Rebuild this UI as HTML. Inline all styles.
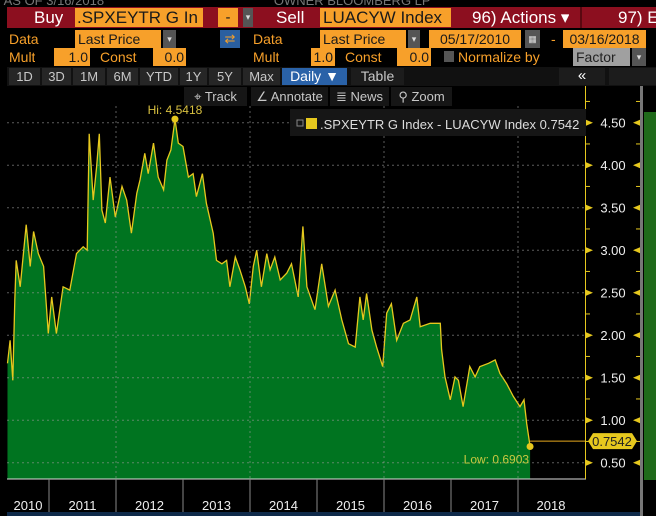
<!DOCTYPE html>
<html><head><meta charset="utf-8"><style>
body{margin:0;background:#000;width:656px;height:516px;overflow:hidden;position:relative;font-family:"Liberation Sans",sans-serif}
.a{position:absolute;box-sizing:border-box;white-space:nowrap;overflow:hidden}
.or{background:#f7a02a;color:#1a1a1a}
.lb{color:#f7a02a}
.btn{background:#262626;color:#c8c8c8;text-align:center}
.dd{background:#555;color:#ddd;text-align:center;font-size:9px}
</style></head><body>
<div class="a" style="left:0;top:0;width:656px;height:7px;color:#777;font-size:13px;line-height:2px">&nbsp;AS OF 3/16/2018 &nbsp;&nbsp;&nbsp;&nbsp;&nbsp;&nbsp;&nbsp;&nbsp;&nbsp;&nbsp;&nbsp;&nbsp;&nbsp;&nbsp;&nbsp;&nbsp;&nbsp;&nbsp;&nbsp;&nbsp;&nbsp;&nbsp;&nbsp;&nbsp;&nbsp;&nbsp;&nbsp;&nbsp;&nbsp;&nbsp;&nbsp;&nbsp;&nbsp;&nbsp;&nbsp;&nbsp;&nbsp;&nbsp;&nbsp;&nbsp;&nbsp;&nbsp;&nbsp;&nbsp;&nbsp;&nbsp;OWNER BLOOMBERG LP</div>
<div class="a" style="left:7px;top:7px;width:649px;height:21px;background:#8c0f1f"></div>
<div class="a" style="left:34px;top:7px;height:21px;color:#fff;font-size:17px;line-height:21px">Buy</div>
<div class="a or" style="left:75px;top:8px;width:128px;height:19px;font-size:17px;line-height:19px;padding-left:2px">.SPXEYTR G In</div>
<div class="a or" style="left:218px;top:8px;width:20px;height:19px;font-size:15px;line-height:19px;text-align:center">-</div>
<div class="a dd" style="left:243px;top:8px;width:10px;height:19px;line-height:19px">▾</div>
<div class="a" style="left:276px;top:7px;height:21px;color:#fff;font-size:17px;line-height:21px">Sell</div>
<div class="a or" style="left:320px;top:8px;width:131px;height:19px;font-size:17px;line-height:19px;padding-left:3px">LUACYW Index</div>
<div class="a" style="left:472px;top:7px;color:#fff;font-size:17px;line-height:21px">96) Actions ▾</div>
<div class="a" style="left:580px;top:7px;width:2px;height:21px;background:#5a0810"></div>
<div class="a" style="left:618px;top:7px;color:#fff;font-size:17px;line-height:21px;width:40px">97) Ec</div>
<div class="a lb" style="left:9px;top:30px;font-size:14px;line-height:18px">Data</div>
<div class="a or" style="left:75px;top:30px;width:86px;height:18px;font-size:14px;line-height:18px;padding-left:3px">Last Price</div>
<div class="a dd" style="left:163px;top:30px;width:13px;height:18px;line-height:18px">▾</div>
<div class="a" style="left:220px;top:30px;width:20px;height:18px;background:#2a5fa0;color:#f7a02a;font-size:13px;line-height:18px;text-align:center">⇄</div>
<div class="a lb" style="left:253px;top:30px;font-size:14px;line-height:18px">Data</div>
<div class="a or" style="left:320px;top:30px;width:86px;height:18px;font-size:14px;line-height:18px;padding-left:3px">Last Price</div>
<div class="a dd" style="left:408px;top:30px;width:12px;height:18px;line-height:18px">▾</div>
<div class="a or" style="left:429px;top:30px;width:92px;height:18px;font-size:14px;line-height:18px;text-align:center">05/17/2010</div>
<div class="a dd" style="left:525px;top:30px;width:15px;height:18px;line-height:18px">▦</div>
<div class="a lb" style="left:551px;top:30px;font-size:14px;line-height:18px">-</div>
<div class="a or" style="left:563px;top:30px;width:83px;height:18px;font-size:14px;line-height:18px;text-align:center">03/16/2018</div>
<div class="a lb" style="left:9px;top:48px;font-size:14px;line-height:18px">Mult</div>
<div class="a or" style="left:54px;top:48px;width:36px;height:18px;font-size:14px;line-height:18px;text-align:right;padding-right:2px">1.0</div>
<div class="a lb" style="left:100px;top:48px;font-size:14px;line-height:18px">Const</div>
<div class="a or" style="left:153px;top:48px;width:33px;height:18px;font-size:14px;line-height:18px;text-align:right;padding-right:2px">0.0</div>
<div class="a lb" style="left:253px;top:48px;font-size:14px;line-height:18px">Mult</div>
<div class="a or" style="left:311px;top:48px;width:24px;height:18px;font-size:14px;line-height:18px;text-align:right;padding-right:2px">1.0</div>
<div class="a lb" style="left:345px;top:48px;font-size:14px;line-height:18px">Const</div>
<div class="a or" style="left:397px;top:48px;width:34px;height:18px;font-size:14px;line-height:18px;text-align:right;padding-right:2px">0.0</div>
<div class="a" style="left:444px;top:51px;width:10px;height:11px;background:#555"></div>
<div class="a lb" style="left:458px;top:48px;font-size:14px;line-height:18px">Normalize by</div>
<div class="a" style="left:573px;top:48px;width:57px;height:18px;background:#a0a0a0;color:#222;font-size:14px;line-height:18px;padding-left:3px">Factor</div>
<div class="a dd" style="left:632px;top:48px;width:14px;height:18px;line-height:18px">▾</div>
<div class="a" style="left:7px;top:67px;width:649px;height:19px;background:#111"></div>
<div class="a btn" style="left:9px;top:68px;width:31px;height:17px;font-size:13px;line-height:17px">1D</div>
<div class="a btn" style="left:42px;top:68px;width:29px;height:17px;font-size:13px;line-height:17px">3D</div>
<div class="a btn" style="left:73px;top:68px;width:32px;height:17px;font-size:13px;line-height:17px">1M</div>
<div class="a btn" style="left:107px;top:68px;width:31px;height:17px;font-size:13px;line-height:17px">6M</div>
<div class="a btn" style="left:140px;top:68px;width:38px;height:17px;font-size:13px;line-height:17px">YTD</div>
<div class="a btn" style="left:180px;top:68px;width:27px;height:17px;font-size:13px;line-height:17px">1Y</div>
<div class="a btn" style="left:209px;top:68px;width:32px;height:17px;font-size:13px;line-height:17px">5Y</div>
<div class="a btn" style="left:243px;top:68px;width:37px;height:17px;font-size:13px;line-height:17px">Max</div>
<div class="a" style="left:282px;top:68px;width:65px;height:17px;background:#2a62a8;color:#fff;font-size:14px;line-height:17px;text-align:center">Daily ▼</div>
<div class="a btn" style="left:351px;top:68px;width:53px;height:17px;font-size:14px;line-height:17px;background:#1c1c1c">Table</div>
<div class="a btn" style="left:559px;top:68px;width:46px;height:17px;font-size:15px;line-height:15px;color:#fff;background:#1c1c1c">«</div>
<div class="a btn" style="left:609px;top:68px;width:47px;height:17px;background:#1c1c1c"></div>
<div class="a btn" style="left:184px;top:87px;width:63px;height:19px;font-size:13px;line-height:19px;background:#161616">⌖ Track</div>
<div class="a btn" style="left:251px;top:87px;width:77px;height:19px;font-size:13px;line-height:19px;background:#161616">∠ Annotate</div>
<div class="a btn" style="left:330px;top:87px;width:59px;height:19px;font-size:13px;line-height:19px;background:#161616">≣ News</div>
<div class="a btn" style="left:391px;top:87px;width:61px;height:19px;font-size:13px;line-height:19px;background:#161616">⚲ Zoom</div>

<svg class="a" style="left:0;top:0" width="656" height="516" id="svg"></svg>
<script>
const dates=[2010.38,2010.42,2010.46,2010.49,2010.51,2010.57,2010.66,2010.72,2010.77,2010.84,2010.92,2010.99,2011.04,2011.11,2011.21,2011.31,2011.41,2011.51,2011.57,2011.60,2011.66,2011.71,2011.75,2011.79,2011.84,2011.91,2011.99,2012.09,2012.16,2012.23,2012.31,2012.36,2012.43,2012.48,2012.56,2012.63,2012.71,2012.76,2012.82,2012.88,2012.93,2013.00,2013.08,2013.15,2013.20,2013.29,2013.35,2013.45,2013.50,2013.58,2013.65,2013.70,2013.78,2013.85,2013.93,2013.99,2014.05,2014.10,2014.17,2014.25,2014.30,2014.37,2014.45,2014.55,2014.62,2014.72,2014.79,2014.85,2014.97,2015.07,2015.17,2015.27,2015.37,2015.47,2015.57,2015.64,2015.69,2015.74,2015.82,2015.89,2015.98,2016.04,2016.11,2016.19,2016.29,2016.39,2016.49,2016.54,2016.69,2016.84,2016.86,2016.91,2016.99,2017.06,2017.11,2017.18,2017.28,2017.36,2017.43,2017.56,2017.66,2017.73,2017.83,2017.93,2018.03,2018.09,2018.13,2018.18];
const values=[1.67,1.94,1.47,2.41,2.88,2.57,3.30,2.81,3.22,2.96,2.81,2.02,2.45,2.02,2.57,2.53,2.96,3.04,3.00,4.37,3.59,3.98,4.37,3.47,3.32,3.86,3.39,3.75,3.59,3.20,3.67,3.83,4.14,3.90,4.26,3.86,3.71,4.06,4.18,4.5418,4.26,4.22,3.86,3.90,3.63,3.90,3.55,3.20,2.88,2.84,2.88,2.57,2.92,2.77,2.57,2.37,2.81,3.00,2.57,2.96,2.77,2.92,2.65,2.73,2.84,2.45,3.28,2.57,2.30,2.84,2.34,2.53,2.18,1.90,1.86,2.45,2.18,2.49,2.06,1.86,1.63,2.26,2.37,1.94,2.14,2.18,2.45,2.10,2.14,2.14,1.83,1.51,1.24,1.51,1.47,1.16,1.63,1.51,1.63,1.67,1.71,1.55,1.43,1.28,1.16,1.24,0.96,0.6903];
const yTicks=[0.5,1.0,1.5,2.0,2.5,3.0,3.5,4.0,4.5];
const years=[2010,2011,2012,2013,2014,2015,2016,2017,2018];
const lastValue=0.7542;
const X=t=>49+(t-2011)*67;
const Y=v=>462.7-(v-0.5)*85;
const NS='http://www.w3.org/2000/svg';
const svg=document.getElementById('svg');
function mk(tag,at,txt){const e=document.createElementNS(NS,tag);for(const k in at)e.setAttribute(k,at[k]);if(txt!==undefined)e.textContent=txt;svg.appendChild(e);return e;}
let e=mk('rect',{x:640,y:86,width:3,height:430,fill:'#777'});


e=mk('rect',{x:644,y:112,width:12,height:368,fill:'#1f6a1a'});


const bottom=479;
let d='M'+X(dates[0])+','+bottom;
dates.forEach((t,i)=>{d+=' L'+X(t).toFixed(1)+','+Y(values[i]).toFixed(1);});
d+=' L'+X(dates[dates.length-1]).toFixed(1)+','+bottom+' Z';
e=mk('path',{d:d,fill:'#007420'});


let ld='';
dates.forEach((t,i)=>{ld+=(i?' L':'M')+X(t).toFixed(1)+','+Y(values[i]).toFixed(1);});
e=mk('path',{d:ld,fill:'none',stroke:'#e6c81e','stroke-width':1.3});


yTicks.forEach(v=>{
 e=mk('line',{x1:7,x2:585,y1:Y(v),y2:Y(v),stroke:'#9a9a9a','stroke-opacity':0.6,'stroke-dasharray':'2,3'});
 
 
});
[2012,2014,2016,2018].forEach(yr=>{
 e=mk('line',{x1:X(yr),x2:X(yr),y1:106,y2:bottom,stroke:'#9a9a9a','stroke-opacity':0.6,'stroke-dasharray':'2,3'});
 
 
});
e=mk('line',{x1:7,x2:586,y1:bottom,y2:bottom,stroke:'#ddd','stroke-width':1});


e=mk('line',{x1:585.5,x2:585.5,y1:86,y2:bottom,stroke:'#e6c81e','stroke-width':1});


for(let v=0.5;v<=4.75;v+=0.25){
 e=mk('line',{x1:585,x2:590,y1:Y(v),y2:Y(v),stroke:'#e6c81e'});
 
 
 e=mk('line',{x1:636,x2:640,y1:Y(v),y2:Y(v),stroke:'#e6c81e'});
 
 
}
yTicks.forEach(v=>{
 const y=Y(v);
 e=mk('path',{d:`M586,${y-3} L593,${y} L586,${y+3}Z`,fill:'#e6c81e'});
 
 
 e=mk('path',{d:`M640,${y-3} L633,${y} L640,${y+3}Z`,fill:'#e6c81e'});
 
 
 e=mk('text',{x:613,y:y+5,'text-anchor':'middle',fill:'#eee','font-size':13,'font-family':'Liberation Sans'},v.toFixed(2));
 
 
});
years.forEach((yr,i)=>{
 if(i>0){e=mk('line',{x1:X(yr),x2:X(yr),y1:bottom,y2:512,stroke:'#888'});
 
 }
 const cx=i==0?(7+X(2011))/2:(X(yr)+X(yr+1))/2;
 e=mk('text',{x:i==years.length-1?X(yr)+33:cx,y:510,'text-anchor':'middle',fill:'#eee','font-size':13,'font-family':'Liberation Sans'},String(yr));
 
 
});
e=mk('rect',{x:7,y:512,width:633,height:4,fill:'#0f2a4a'});


let hi=0;values.forEach((v,i)=>{if(v>values[hi])hi=i;});
let lo=0;values.forEach((v,i)=>{if(v<values[lo])lo=i;});
e=mk('circle',{cx:X(dates[hi]),cy:Y(values[hi]),r:3.5,fill:'#e6c81e'});


e=mk('text',{x:X(dates[hi]),y:Y(values[hi])-5,'text-anchor':'middle',fill:'#d8c040','font-size':12,'font-family':'Liberation Sans'},'Hi: '+values[hi].toFixed(4));


e=mk('line',{x1:X(dates[lo]),x2:585,y1:Y(lastValue),y2:Y(lastValue),stroke:'#e6a81e'});


e=mk('circle',{cx:X(dates[lo]),cy:Y(values[lo]),r:3.5,fill:'#e6c81e'});


e=mk('text',{x:X(dates[lo])-1,y:Y(values[lo])+17,'text-anchor':'end',fill:'#c8c840','font-size':12,'font-family':'Liberation Sans'},'Low: '+values[lo].toFixed(4));


const ly=Y(lastValue);
e=mk('path',{d:`M588,${ly} L593,${ly-8} L632,${ly-8} L637,${ly} L632,${ly+8} L593,${ly+8}Z`,fill:'#e6c81e'});


e=mk('text',{x:612,y:ly+5,'text-anchor':'middle',fill:'#222','font-size':13,'font-family':'Liberation Sans'},lastValue.toFixed(4));


e=mk('rect',{x:290,y:109,width:296,height:27,fill:'#161616'});


e=mk('rect',{x:297,y:120,width:6,height:6,fill:'none',stroke:'#888'});


e=mk('rect',{x:306,y:118,width:11,height:11,fill:'#e6c81e'});


e=mk('text',{x:320,y:129,fill:'#ddd','font-size':13,'font-family':'Liberation Sans'},'.SPXEYTR G Index - LUACYW Index '+lastValue.toFixed(4));


</script>
</body></html>
